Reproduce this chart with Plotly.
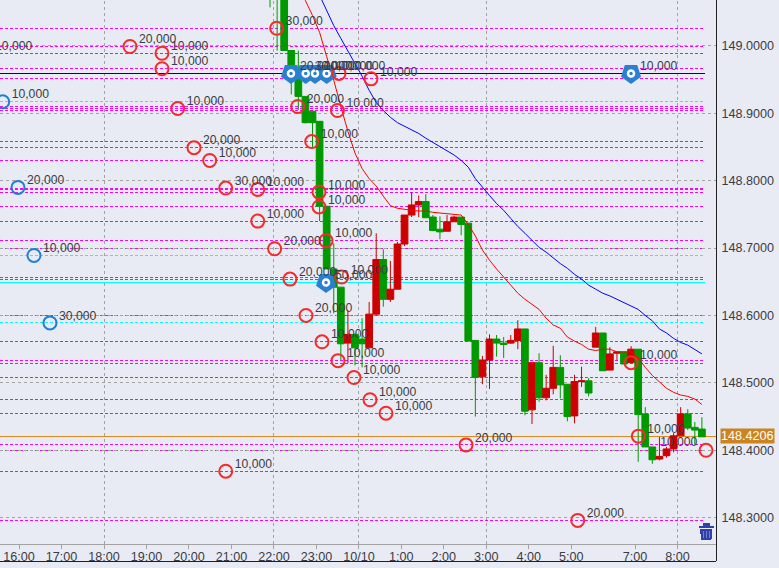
import plotly.graph_objects as go

bar_index = list(range(23, 85))
bar_open = [149.095,149.120,149.090,148.993,148.952,148.925,148.903,148.888,148.762,148.669,148.642,148.559,148.572,148.565,148.552,148.602,148.683,148.624,148.639,148.706,148.749,148.764,148.769,148.746,148.728,148.725,148.739,148.746,148.737,148.563,148.509,148.534,148.565,148.559,148.559,148.563,148.580,148.460,148.530,148.478,148.492,148.523,148.498,148.451,148.502,148.503,148.553,148.574,148.519,148.544,148.546,148.530,148.550,148.454,148.405,148.387,148.392,148.402,148.4215,148.454,148.434,148.4315]
bar_close = [149.080,149.090,148.993,148.949,148.925,148.886,148.886,148.762,148.669,148.642,148.558,148.572,148.552,148.558,148.602,148.683,148.624,148.639,148.706,148.749,148.764,148.769,148.745,148.726,148.724,148.739,148.746,148.735,148.562,148.508,148.534,148.565,148.559,148.557,148.563,148.580,148.458,148.530,148.478,148.492,148.523,148.497,148.450,148.502,148.503,148.485,148.574,148.518,148.543,148.546,148.528,148.550,148.453,148.405,148.386,148.391,148.402,148.4215,148.454,148.433,148.430,148.420]
bar_high = [149.100,149.125,149.095,148.993,148.993,148.925,148.903,148.888,148.762,148.707,148.642,148.608,148.572,148.596,148.620,148.722,148.698,148.681,148.709,148.749,148.783,148.778,148.780,148.749,148.747,148.749,148.748,148.746,148.737,148.563,148.540,148.572,148.571,148.568,148.571,148.593,148.580,148.530,148.544,148.512,148.555,148.541,148.498,148.512,148.524,148.507,148.583,148.574,148.553,148.546,148.546,148.5545,148.550,148.464,148.405,148.420,148.405,148.4255,148.464,148.461,148.442,148.449]
bar_low = [149.057,148.993,148.993,148.928,148.905,148.885,148.849,148.740,148.669,148.603,148.534,148.529,148.526,148.523,148.552,148.600,148.613,148.620,148.639,148.703,148.746,148.746,148.745,148.725,148.713,148.725,148.739,148.719,148.562,148.450,148.498,148.491,148.539,148.537,148.558,148.550,148.452,148.439,148.472,148.474,148.483,148.477,148.443,148.440,148.494,148.480,148.553,148.518,148.519,148.534,148.528,148.530,148.383,148.405,148.380,148.385,148.389,148.397,148.4215,148.430,148.408,148.420]

red_ma_index = list(range(27, 85))
red_ma = [149.104,149.067,149.045,149.020,148.984,148.949,148.910,148.873,148.841,148.818,148.803,148.792,148.777,148.763,148.759,148.757,148.756,148.755,148.755,148.753,148.752,148.752,148.750,148.749,148.735,148.718,148.697,148.682,148.669,148.657,148.645,148.633,148.624,148.617,148.609,148.596,148.586,148.581,148.568,148.562,148.557,148.550,148.548,148.550,148.550,148.546,148.546,148.546,148.537,148.523,148.511,148.501,148.492,148.486,148.482,148.480,148.476,148.468]
blue_ma_index = list(range(30, 85))
blue_ma = [149.075,149.052,149.030,149.011,148.993,148.975,148.955,148.934,148.916,148.904,148.894,148.886,148.881,148.876,148.870,148.863,148.857,148.851,148.845,148.838,148.830,148.820,148.803,148.790,148.778,148.766,148.756,148.744,148.732,148.722,148.712,148.701,148.694,148.685,148.677,148.670,148.661,148.654,148.645,148.639,148.633,148.629,148.624,148.620,148.615,148.609,148.600,148.592,148.580,148.574,148.566,148.560,148.556,148.550,148.543]

magenta_levels = [149.026,148.999,148.989,148.966,148.951,148.910,148.907,148.904,148.858,148.849,148.830,148.789,148.787,148.783,148.761,148.739,148.711,148.699,148.657,148.654,148.600,148.561,148.533,148.529,148.508,148.475,148.455,148.421,148.408,148.400,148.369,148.296]
cyan_dashed_levels = [148.917,148.689,148.589]
cyan_solid_level = 148.649
navy_solid_level = 148.959
current_price = 148.4206

tick_index = [-12,-6,0,6,12,18,24,30,36,42,48,54,60,66,75,81]
tick_labels = ["16:00","17:00","18:00","19:00","20:00","21:00","22:00","23:00","10/10","1:00","2:00","3:00","4:00","5:00","7:00","8:00"]
vgrid_index = [0,24,36,54,81]
price_ticks = [148.3,148.4,148.5,148.6,148.7,148.8,148.9,149.0]

red_x = [-16.67,3.67,8.19,8.19,10.41,12.71,14.93,17.19,21.71,24.38,27.36,33.19,37.71,32.97,29.34,30.37,30.37,31.36,24.10,21.71,26.27,33.57,28.53,30.79,33.05,35.31,37.57,39.83,17.19,51.13,66.91,74.44,75.47,85.03]
red_y = [148.989,148.999,148.989,148.966,148.907,148.849,148.830,148.789,148.787,149.026,148.910,148.959,148.951,148.904,148.858,148.783,148.761,148.711,148.699,148.740,148.654,148.657,148.600,148.561,148.533,148.508,148.475,148.455,148.369,148.408,148.296,148.530,148.421,148.400]
red_labels = ["10,000","20,000","10,000","10,000","10,000","20,000","10,000","30,000","10,000","30,000","20,000","10,000","10,000","10,000","10,000","10,000","10,000","10,000","20,000","10,000","20,000","10,000","20,000","10,000","10,000","10,000","10,000","10,000","10,000","20,000","20,000","10,000","10,000",""]

# label of the last circle sits to the left of it
last_label_x = [78.55]
last_label_y = [148.411]
last_label = ["10,000"]

blue_x = [-14.31,-12.15,-9.89,-7.63]
blue_y = [148.917,148.790,148.689,148.589]
blue_labels = ["10,000","20,000","10,000","30,000"]

pin_x = [29.80,26.41,28.49,31.45,74.44,31.36]
pin_y = [148.959,148.959,148.959,148.959,148.959,148.649]
pin_labels = ["10,000","20,000","30,000","10,000","10,000","50,000"]

LABEL_DX = 1.27
LABEL_DY = 0.0095
BG = "#e8ebf3"
TXT = "#3c3c46"
FONT = "Liberation Sans"
X0, X1 = -14.69, 86.44
XEND = 84.95
BAR_OFF = 0.45

fig = go.Figure()

fig.add_trace(go.Candlestick(
    x=[i + BAR_OFF for i in bar_index], open=bar_open, high=bar_high, low=bar_low, close=bar_close,
    increasing=dict(line=dict(color="#cc0000", width=1), fillcolor="#cc0000"),
    decreasing=dict(line=dict(color="#009900", width=1), fillcolor="#009900"),
    whiskerwidth=0, hoverinfo="skip"))

fig.add_trace(go.Scatter(x=[i + BAR_OFF for i in red_ma_index], y=red_ma, mode="lines",
                         line=dict(color="#ff0000", width=1), hoverinfo="skip"))
fig.add_trace(go.Scatter(x=[i + BAR_OFF for i in blue_ma_index], y=blue_ma, mode="lines",
                         line=dict(color="#0000ff", width=1), hoverinfo="skip"))

fig.add_trace(go.Scatter(x=pin_x, y=pin_y, mode="markers", hoverinfo="skip",
                         marker=dict(symbol="pentagon", angle=180, size=21, color="#2a7fd0", line=dict(width=0))))
fig.add_trace(go.Scatter(x=pin_x, y=pin_y, mode="markers", hoverinfo="skip",
                         marker=dict(symbol="circle-open", size=6, color="#ffffff", line=dict(color="#ffffff", width=2.5))))

fig.add_trace(go.Scatter(x=red_x, y=red_y, mode="markers", hoverinfo="skip",
                         marker=dict(symbol="circle-open", size=13, color="#f52a2a", line=dict(color="#f52a2a", width=2))))
fig.add_trace(go.Scatter(x=blue_x, y=blue_y, mode="markers", hoverinfo="skip",
                         marker=dict(symbol="circle-open", size=13, color="#1e7fd6", line=dict(color="#1e7fd6", width=2))))

lab_x = [v + LABEL_DX for v in red_x + blue_x + pin_x] + last_label_x
lab_y = [v + LABEL_DY for v in red_y + blue_y + pin_y] + last_label_y
lab_t = red_labels + blue_labels + pin_labels + last_label
fig.add_trace(go.Scatter(x=lab_x, y=lab_y, mode="text", text=lab_t, textposition="middle right",
                         textfont=dict(family=FONT, size=12.2, color=TXT), hoverinfo="skip"))

def hline(level, color, dash="3px,2px", width=1, x1=XEND):
    fig.add_shape(type="line", layer="below", xref="x", yref="y", x0=X0, x1=x1, y0=level, y1=level,
                  line=dict(color=color, width=width, dash=dash))

for v in vgrid_index:
    fig.add_shape(type="line", layer="below", xref="x", yref="paper", x0=v, x1=v, y0=0, y1=1,
                  line=dict(color="#a3a3a3", width=1, dash="3px,3px"))
for lv in magenta_levels:
    hline(lv, "#ff00ff")
for lv in cyan_dashed_levels:
    hline(lv, "#00ffff")
hline(cyan_solid_level, "#00ffff", dash="solid")
hline(navy_solid_level, "#000099", dash="solid")
hline(current_price, "#e08a1e", dash="solid", x1=X1)

PW, PH = 716.0, 544.0
def px(x): return x / PW
def py(y): return 1 - y / PH

# outer frame
fig.add_shape(type="line", xref="paper", yref="paper", x0=px(716), x1=px(716), y0=py(0), y1=py(561),
              line=dict(color="#202020", width=1))
fig.add_shape(type="line", xref="paper", yref="paper", x0=0, x1=px(716), y0=py(561), y1=py(561),
              line=dict(color="#202020", width=1))

# trash icon
fig.add_shape(type="rect", xref="paper", yref="paper", x0=px(698.5), x1=px(714), y0=py(525.5), y1=py(528),
              fillcolor="#2f40a8", line=dict(width=0))
fig.add_shape(type="rect", xref="paper", yref="paper", x0=px(703), x1=px(709.5), y0=py(523), y1=py(525.5),
              fillcolor="#2f40a8", line=dict(width=0))
fig.add_shape(type="path", xref="paper", yref="paper",
              path=f"M {px(700)} {py(529)} L {px(712.5)} {py(529)} L {px(711.5)} {py(539.5)} L {px(701)} {py(539.5)} Z",
              fillcolor="#2f40a8", line=dict(width=0))
for sx in (703.5, 706.3, 709):
    fig.add_shape(type="line", xref="paper", yref="paper", x0=px(sx), x1=px(sx), y0=py(531), y1=py(538),
                  line=dict(color="#6f7fd0", width=1))

fig.add_annotation(xref="paper", yref="y", x=px(719.5), y=current_price, text="148.4206", showarrow=False,
                   xanchor="left", yanchor="middle", bgcolor="#cc8422", borderpad=0,
                   font=dict(family=FONT, size=12.6, color="#ffffff"))

fig.update_layout(
    width=779, height=568, showlegend=False,
    margin=dict(l=0, r=63, t=0, b=24, pad=0),
    paper_bgcolor=BG, plot_bgcolor=BG,
    boxgap=0.05, boxgroupgap=0,
    font=dict(family=FONT, size=12, color=TXT),
    xaxis=dict(range=[X0, X1], tickmode="array", tickvals=tick_index, ticktext=tick_labels,
               showgrid=False, zeroline=False, rangeslider=dict(visible=False),
               ticks="outside", ticklen=4, tickcolor="#a3a3a3", tickwidth=1, ticklabelstandoff=-3,
               showline=True, linecolor="#a3a3a3", linewidth=1,
               tickfont=dict(family=FONT, size=12.6, color=TXT)),
    yaxis=dict(range=[148.261, 149.068], side="right", tickmode="array", tickvals=price_ticks,
               ticktext=[f"{v:.4f}" for v in price_ticks], zeroline=False,
               showgrid=True, gridcolor="#a3a3a3", griddash="3px,3px", gridwidth=1,
               ticks="outside", ticklen=2, tickcolor=BG, showline=False,
               tickfont=dict(family=FONT, size=12.6, color=TXT)),
)

css = ("var s=document.createElement('style');"
       "s.textContent='.shapelayer path{shape-rendering:crispEdges}';"
       "document.head.appendChild(s);"
       "document.body.style.margin='0';document.body.style.overflow='hidden';")
fig.write_html("out.html", config={"displayModeBar": False}, post_script=css)
